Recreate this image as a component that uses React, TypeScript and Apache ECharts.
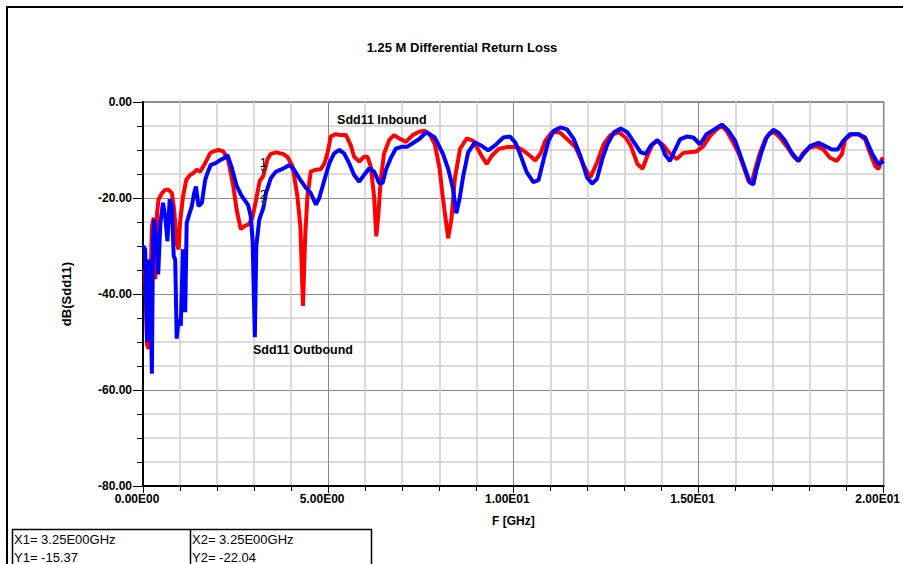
import React, { useEffect, useRef } from 'react';
import * as echarts from 'echarts';

const chartTitle = '1.25 M Differential Return Loss';
const xAxisName = 'F [GHz]';
const yAxisName = 'dB(Sdd11)';
const inboundName = 'Sdd11 Inbound';
const outboundName = 'Sdd11 Outbound';

const inboundFreq = [
  0, 0.06, 0.11, 0.16, 0.2, 0.24, 0.29, 0.33, 0.38, 0.42, 0.51, 0.6, 0.69, 0.78, 0.84, 0.91, 0.96, 1.0,
  1.08, 1.17, 1.27, 1.36, 1.45, 1.54, 1.63, 1.72, 1.81, 1.9, 2.04, 2.17, 2.3, 2.44, 2.53, 2.64, 2.75,
  2.85, 2.95, 3.05, 3.15, 3.25, 3.36, 3.45, 3.6, 3.77, 3.9, 4.04, 4.17, 4.25, 4.32, 4.38, 4.44, 4.53,
  4.67, 4.8, 4.9, 4.98, 5.07, 5.2, 5.34, 5.48, 5.61, 5.7, 5.84, 5.97, 6.06, 6.15, 6.24, 6.3, 6.36, 6.42,
  6.51, 6.65, 6.78, 6.92, 7.1, 7.28, 7.46, 7.6, 7.74, 7.88, 8.01, 8.1, 8.24, 8.33, 8.42, 8.56, 8.74,
  8.92, 9.14, 9.28, 9.42, 9.6, 9.82, 10.1, 10.27, 10.45, 10.59, 10.73, 10.86, 11.04, 11.25, 11.45,
  11.68, 11.9, 12.08, 12.26, 12.44, 12.62, 12.85, 13.03, 13.17, 13.35, 13.49, 13.62, 13.76, 13.89,
  14.05, 14.2, 14.27, 14.41, 14.59, 14.82, 14.95, 15.13, 15.31, 15.49, 15.63, 15.76, 15.94, 16.08,
  16.21, 16.35, 16.44, 16.53, 16.66, 16.8, 16.93, 17.06, 17.2, 17.38, 17.56, 17.7, 17.83, 18.01,
  18.19, 18.37, 18.55, 18.73, 18.87, 18.96, 19.14, 19.32, 19.5, 19.63, 19.77, 19.86, 19.95, 20,
];
const inboundDb = [
  -35.2, -35.5, -50.7, -51.4, -39, -25.9, -24.1, -36.9, -23.1, -20.3, -19, -18.3, -18.3, -19, -22.4, -29.3, -30.7, -25.2,
  -19.7, -16.2, -15.2, -14.8, -14.1, -14.5, -13.4, -12.1, -10.7, -10.3, -10, -10.3, -12.1, -17.6, -22.5, -26.5, -25.8,
  -25.5, -24.2, -20.5, -16.5, -15.37, -12, -10.8, -10.5, -10.8, -11.4, -13.4, -19.7, -26, -42.5, -28, -19.7, -14.5,
  -14.1, -14, -12.8, -10.7, -7.2, -6.7, -6.9, -6.9, -9, -11.4, -12.4, -11.4, -11.4, -13.4, -19.7, -28, -23, -16.2,
  -10.7, -7.9, -6.9, -7.6, -8.3, -6.9, -6.2, -6.0, -6.7, -8.8, -13.9, -20.1, -28.4, -24.3, -16, -9.8, -7.6,
  -8.1, -11.2, -12.9, -11.2, -9.8, -9.4, -9.4, -10.1, -11.2, -12.2, -10.8, -8.1, -6.3, -6.3, -7.7,
  -9.4, -13.2, -15.7, -12.6, -8.8, -6.9, -6.3, -7.4, -9.1, -12.9, -13.9, -11.2, -8.8, -8.1,
  -9, -10.5, -10.9, -11.9, -10.6, -10.4, -10.3, -9.2, -7.1, -5.7, -5, -6, -8.5, -10.6,
  -13.3, -16.5, -16.8, -14, -10.6, -7.8, -6.4, -6.4, -7.4, -9.2, -11.3, -12.3, -10.6, -9.5,
  -9.2, -9.9, -11.6, -12.3, -10.9, -7.8, -6.7, -6.7, -7.8, -10.6, -13.3, -14, -11.9, -11.7,
];

const outboundFreq = [
  0, 0.06, 0.11, 0.15, 0.2, 0.24, 0.27, 0.3, 0.36, 0.41, 0.47, 0.54, 0.6, 0.66, 0.72, 0.78, 0.83, 0.87,
  0.91, 0.96, 1.02, 1.08, 1.14, 1.18, 1.26, 1.32, 1.38, 1.43, 1.5, 1.59, 1.68, 1.74, 1.83, 1.95, 2.08,
  2.19, 2.28, 2.39, 2.53, 2.66, 2.75, 2.84, 2.91, 2.96, 3.02, 3.06, 3.14, 3.25, 3.32, 3.45, 3.59, 3.72,
  3.85, 3.95, 4.08, 4.22, 4.4, 4.53, 4.67, 4.76, 4.9, 5.03, 5.16, 5.3, 5.43, 5.57, 5.7, 5.84, 5.97,
  6.11, 6.24, 6.38, 6.47, 6.56, 6.69, 6.83, 7.0, 7.14, 7.28, 7.46, 7.65, 7.88, 8.1, 8.24, 8.37, 8.46,
  8.55, 8.65, 8.78, 8.96, 9.14, 9.32, 9.5, 9.73, 9.91, 10.05, 10.18, 10.36, 10.54, 10.68, 10.82,
  10.95, 11.09, 11.27, 11.45, 11.63, 11.81, 11.99, 12.13, 12.26, 12.4, 12.54, 12.72, 12.9, 13.08,
  13.26, 13.44, 13.58, 13.71, 13.89, 14.0, 14.1, 14.23, 14.37, 14.5, 14.68, 14.86, 15.04, 15.22,
  15.45, 15.63, 15.81, 15.99, 16.12, 16.26, 16.39, 16.48, 16.57, 16.71, 16.84, 17.02, 17.16, 17.34,
  17.52, 17.7, 17.83, 18.01, 18.24, 18.42, 18.6, 18.76, 18.91, 19.09, 19.32, 19.5, 19.68, 19.86, 20,
];
const outboundDb = [
  -30, -30.7, -50, -32.8, -39, -56.6, -28.6, -24.5, -28.6, -35.9, -25.2, -21, -23.8, -29, -20.3, -21.7, -32.1, -32.8,
  -49.3, -45.2, -46.6, -30.7, -43.8, -25.2, -23.1, -21.7, -19, -17.6, -21.7, -21, -16.2, -14.8, -13.1, -12.8, -12.1,
  -11.7, -11, -13.5, -17.5, -19.5, -20.5, -21.5, -23.8, -29, -49, -30, -24.5, -22.04, -19, -15.9, -14.5, -14.1,
  -13.6, -13.1, -14.1, -15.9, -17.9, -19, -21.4, -20, -16.2, -12.8, -10.7, -10, -10.7, -12.8, -15.2, -16.6, -15.2,
  -13.8, -14.5, -16.9, -16.9, -14.1, -11.7, -9.7, -9.3, -9.3, -8.6, -7.7, -6.3, -7.4, -10.8, -13.9, -18, -23.2,
  -20.1, -15.3, -10.5, -8.4, -9.1, -10.1, -9.1, -7.4, -7.2, -8.4, -10.8, -14.6, -16.7, -16.3, -11.9,
  -8.1, -6, -5.3, -5.7, -7.7, -11.2, -15.7, -17, -16, -11.9, -8.8, -6.3, -5.5, -6.3,
  -8.4, -10.5, -10.8, -9.1, -7.9, -9, -11, -12.3, -9.9, -7.8, -7.2, -7.4, -8.8, -6.7,
  -5.6, -4.7, -6, -8.1, -10.9, -14, -16.8, -17.2, -14, -10.2, -7.4, -5.8, -6.4, -8.1,
  -10.6, -12.3, -10.9, -9.2, -8.5, -9.2, -9.9, -9.9, -8.1, -6.7, -6.7, -7.4, -10.6, -13, -12.3,
];

const xTickValues = [0, 5, 10, 15, 20];
const xTickLabels = ['0.00E00', '5.00E00', '1.00E01', '1.50E01', '2.00E01'];
const yTickValues = [0, -20, -40, -60, -80];
const yTickLabels = ['0.00', '-20.00', '-40.00', '-60.00', '-80.00'];

const markerFreq = 3.25;
const markerDbs = [-15.37, -22.04];
const markerIds = ['1', '2'];
const markerReadout = ['X1= 3.25E00GHz', 'Y1= -15.37', 'X2= 3.25E00GHz', 'Y2= -22.04'];

const FONT = "Arial, 'Liberation Sans', sans-serif";

export default function App() {
  const ref = useRef<HTMLDivElement>(null);

  useEffect(() => {
    if (!ref.current) return;
    const chart = echarts.init(ref.current, undefined, { renderer: 'svg' });

    const inbound = inboundFreq.map((f, i) => [f, inboundDb[i]]);
    const outbound = outboundFreq.map((f, i) => [f, outboundDb[i]]);

    const tickLabel = (values: number[], labels: string[]) => (v: number) => {
      const i = values.findIndex((t) => Math.abs(t - v) < 1e-9);
      return i >= 0 ? labels[i] : '';
    };

    const annotation = (coord: number[], text: string) => ({
      coord,
      symbol: 'circle',
      symbolSize: 1,
      itemStyle: { color: 'rgba(0,0,0,0)' },
      label: {
        show: true,
        formatter: text,
        position: 'inside',
        color: '#000',
        fontFamily: FONT,
        fontWeight: 'bold',
        fontSize: 12.5,
      },
    });

    const staticGraphic: any[] = [
      {
        id: 'frame',
        type: 'rect',
        shape: { x: 7, y: 7, width: 1000, height: 1000 },
        style: { fill: 'none', stroke: '#000', lineWidth: 2 },
        silent: true,
      },
      {
        id: 'title',
        type: 'text',
        x: 462,
        y: 47,
        style: {
          text: chartTitle,
          textAlign: 'center',
          textVerticalAlign: 'middle',
          font: `bold 13px ${FONT}`,
          fill: '#000',
        },
      },
      {
        id: 'box',
        type: 'rect',
        shape: { x: 12.5, y: 529.5, width: 359, height: 60 },
        style: { fill: '#fff', stroke: '#000', lineWidth: 1.5 },
      },
      {
        id: 'boxdiv',
        type: 'line',
        shape: { x1: 190.5, y1: 529.5, x2: 190.5, y2: 570 },
        style: { stroke: '#000', lineWidth: 1.5 },
      },
      ...markerReadout.map((t, i) => ({
        id: 'readout' + i,
        type: 'text',
        x: i < 2 ? 14 : 192,
        y: i % 2 === 0 ? 539 : 557,
        style: { text: t, textVerticalAlign: 'middle', font: `13px ${FONT}`, fill: '#000' },
      })),
    ];

    chart.setOption({
      animation: false,
      backgroundColor: '#ffffff',
      grid: {
        left: 143,
        right: 19,
        top: 102,
        bottom: 78,
        show: true,
        borderColor: '#707070',
        borderWidth: 1.5,
        backgroundColor: 'transparent',
      },
      xAxis: {
        type: 'value',
        min: 0,
        max: 20,
        interval: 5,
        name: xAxisName,
        nameLocation: 'middle',
        nameGap: 29,
        nameTextStyle: { fontFamily: FONT, fontWeight: 'bold', fontSize: 12, color: '#000' },
        axisLine: { show: true, onZero: false, lineStyle: { color: '#000', width: 2 } },
        axisTick: { show: true, length: 7, lineStyle: { color: '#000', width: 1 } },
        minorTick: { show: true, splitNumber: 5, length: 5, lineStyle: { color: '#000', width: 1 } },
        splitLine: { show: true, lineStyle: { color: '#8a8a8a', width: 1 } },
        minorSplitLine: { show: true, lineStyle: { color: '#cfcfcf', width: 1.5 } },
        axisLabel: {
          formatter: tickLabel(xTickValues, xTickLabels),
          fontFamily: FONT,
          fontWeight: 'bold',
          fontSize: 12,
          color: '#000',
          margin: 7,
          padding: [0, 12, 0, 0],
        },
      },
      yAxis: {
        type: 'value',
        min: -80,
        max: 0,
        interval: 20,
        name: yAxisName,
        nameLocation: 'middle',
        nameGap: 70,
        nameRotate: 90,
        nameTextStyle: { fontFamily: FONT, fontWeight: 'bold', fontSize: 13, color: '#000' },
        axisLine: { show: true, onZero: false, lineStyle: { color: '#000', width: 2 } },
        axisTick: { show: true, length: 10, lineStyle: { color: '#000', width: 1 } },
        minorTick: { show: true, splitNumber: 4, length: 6, lineStyle: { color: '#000', width: 1 } },
        splitLine: { show: true, lineStyle: { color: '#8a8a8a', width: 1 } },
        minorSplitLine: { show: true, lineStyle: { color: '#cfcfcf', width: 1.5 } },
        axisLabel: {
          formatter: tickLabel(yTickValues, yTickLabels),
          fontFamily: FONT,
          fontWeight: 'bold',
          fontSize: 12,
          color: '#000',
          margin: 11,
          padding: [0, 0, 8, 0],
        },
      },
      series: [
        {
          name: inboundName,
          type: 'line',
          data: inbound,
          showSymbol: false,
          lineStyle: { color: '#ff0000', width: 4 },
          itemStyle: { color: '#ff0000' },
          z: 2,
          markPoint: { data: [annotation([6.45, -3.76], inboundName)] },
        },
        {
          name: outboundName,
          type: 'line',
          data: outbound,
          showSymbol: false,
          lineStyle: { color: '#0000ff', width: 4 },
          itemStyle: { color: '#0000ff' },
          z: 3,
          markPoint: { data: [annotation([4.32, -51.6], outboundName)] },
        },
      ],
      graphic: staticGraphic,
    });

    // Marker flags "1" / "2", placed through the chart's own coordinate conversion, drawn above the curves.
    const markerGraphic: any[] = [];
    markerDbs.forEach((db, i) => {
      const p = chart.convertToPixel({ gridIndex: 0 }, [markerFreq, db]) as number[];
      if (!p) return;
      markerGraphic.push({
        id: 'mtri' + i,
        type: 'polygon',
        z: 100,
        shape: { points: [[p[0] - 2.5, p[1] - 7], [p[0] + 2.5, p[1] - 7], [p[0], p[1] - 1.5]] },
        style: { fill: '#404040' },
      });
      markerGraphic.push({
        id: 'mtxt' + i,
        type: 'text',
        z: 100,
        x: p[0],
        y: p[1] - 7,
        style: {
          text: markerIds[i],
          textAlign: 'center',
          textVerticalAlign: 'bottom',
          font: `13px ${FONT}`,
          fill: '#000',
        },
      });
    });
    chart.setOption({ graphic: [...staticGraphic, ...markerGraphic] });

    return () => chart.dispose();
  }, []);

  return (
    <div
      ref={ref}
      style={{ position: 'fixed', left: 0, top: 0, width: 903, height: 564, background: '#fff' }}
    />
  );
}
